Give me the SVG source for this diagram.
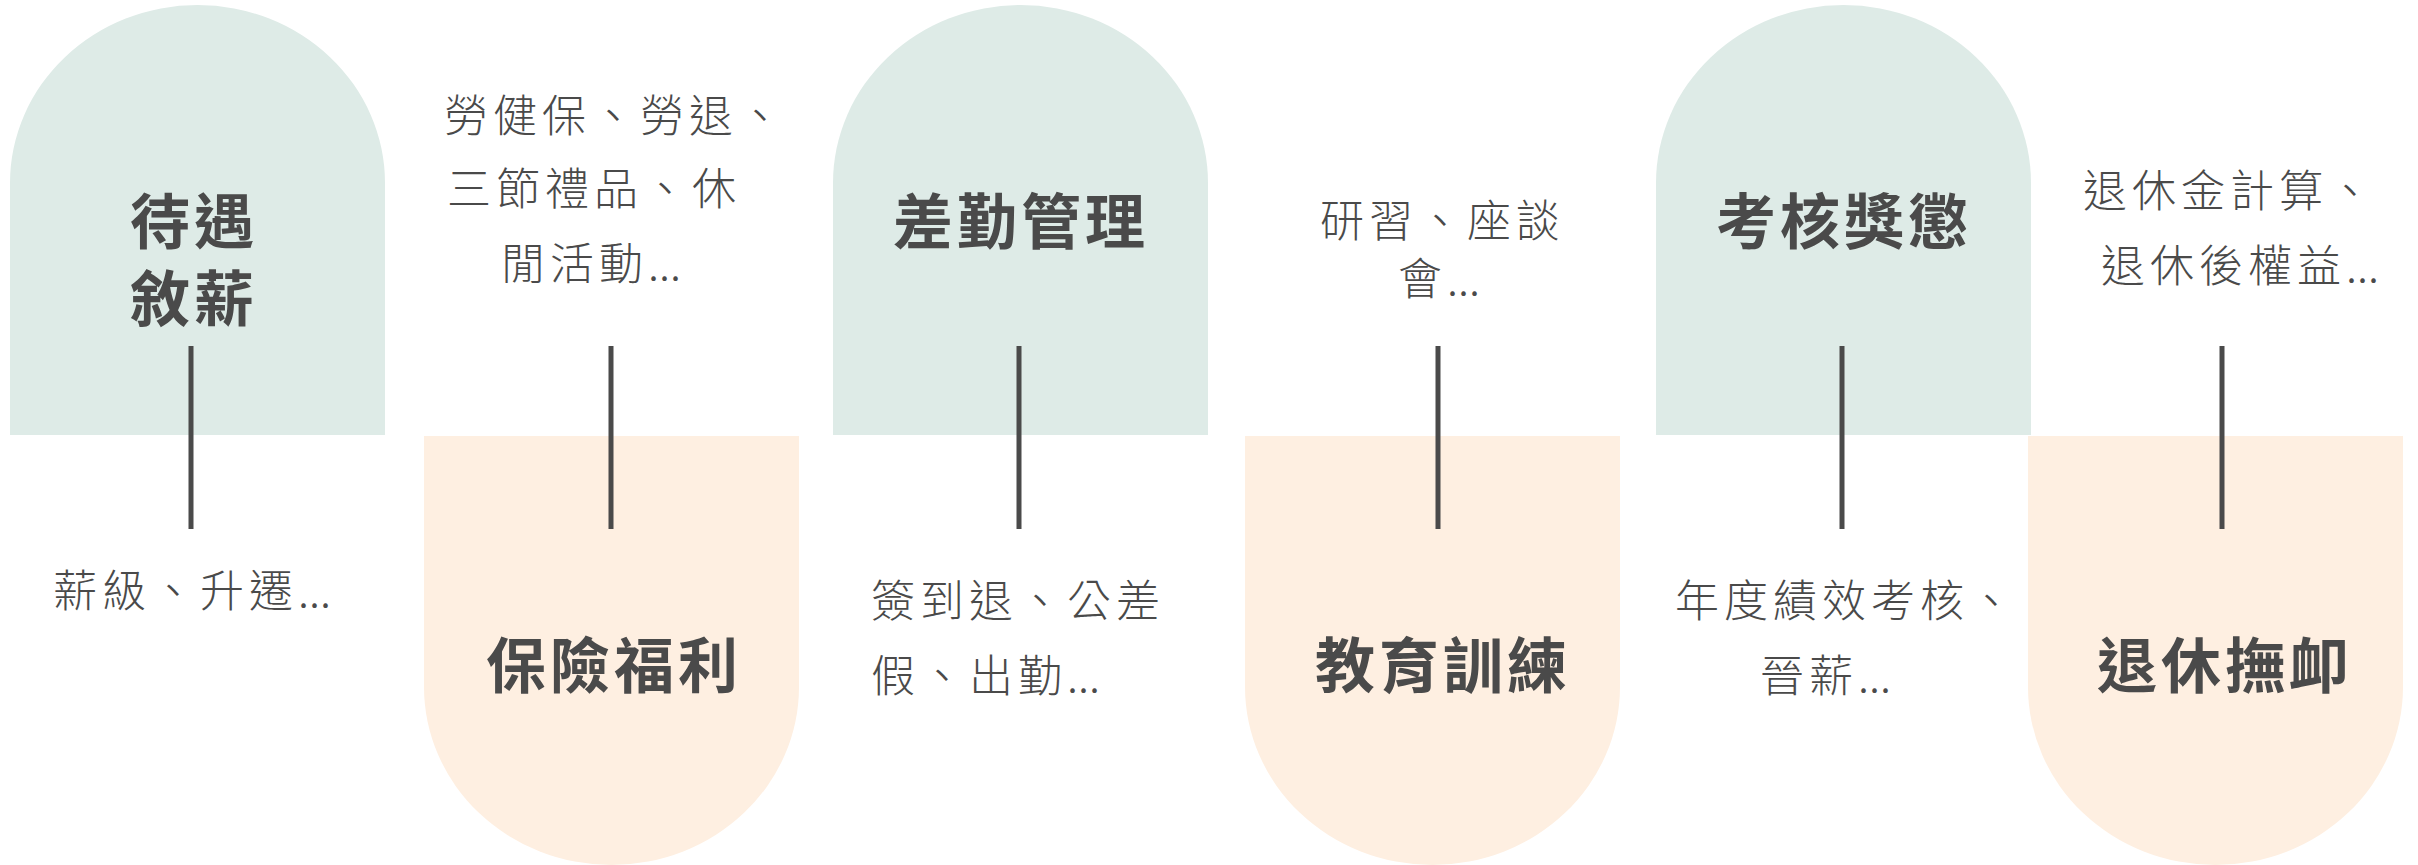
<svg xmlns="http://www.w3.org/2000/svg" width="2418" height="865" viewBox="0 0 2418 865">
<style>
.green{fill:#deebe7}
.peach{fill:#feefe1}
.title{font-family:"Noto Sans CJK TC","Noto Sans CJK SC",sans-serif;font-weight:700;font-size:60px;letter-spacing:4px;fill:#4a4a4a}
.desc{font-family:"Noto Sans CJK TC","Noto Sans CJK SC",sans-serif;font-weight:300;font-size:44px;letter-spacing:5px;fill:#4a4a4a}
.dots{letter-spacing:0}
.conn{stroke:#4a4a4a;stroke-width:5;fill:none}
</style>
<rect width="2418" height="865" fill="#ffffff"/>
<g id="node-salary">
<path class="green" d="M10,435 V183 A187.5,178 0 0 1 385,183 V435 Z"/>
<text class="title"><tspan x="130" y="244">待遇</tspan><tspan x="130" y="321">敘薪</tspan></text>
<text class="desc" x="53" y="607">薪級、升遷<tspan class="dots">...</tspan></text>
</g>
<g id="node-insurance">
<path class="peach" d="M424,436 V687 A187.5,178 0 0 0 799,687 V436 Z"/>
<text class="title" x="486" y="688">保險福利</text>
<text class="desc"><tspan x="444" y="132">勞健保、勞退、</tspan><tspan x="447" y="205">三節禮品、休</tspan><tspan x="501" y="280">閒活動<tspan class="dots">...</tspan></tspan></text>
</g>
<g id="node-attendance">
<path class="green" d="M833,435 V183 A187.5,178 0 0 1 1208,183 V435 Z"/>
<text class="title" x="893" y="244">差勤管理</text>
<text class="desc"><tspan x="871" y="617">簽到退、公差</tspan><tspan x="871" y="692">假、出勤<tspan class="dots">...</tspan></tspan></text>
</g>
<g id="node-training">
<path class="peach" d="M1245,436 V687 A187.5,178 0 0 0 1620,687 V436 Z"/>
<text class="title" x="1315" y="688">教育訓練</text>
<text class="desc"><tspan x="1320" y="237">研習、座談</tspan><tspan x="1398" y="295">會<tspan class="dots">...</tspan></tspan></text>
</g>
<g id="node-evaluation">
<path class="green" d="M1656,435 V183 A187.5,178 0 0 1 2031,183 V435 Z"/>
<text class="title" x="1716" y="244">考核獎懲</text>
<text class="desc"><tspan x="1675" y="617">年度績效考核、</tspan><tspan x="1760" y="692">晉薪<tspan class="dots">...</tspan></tspan></text>
</g>
<g id="node-retirement">
<path class="peach" d="M2028,436 V687 A187.5,178 0 0 0 2403,687 V436 Z"/>
<text class="title" x="2097" y="688">退休撫卹</text>
<text class="desc"><tspan x="2083" y="207">退休金計算、</tspan><tspan x="2101" y="282">退休後權益<tspan class="dots">...</tspan></tspan></text>
</g>
<g id="connectors">
<line class="conn" x1="191" y1="346" x2="191" y2="529"/>
<line class="conn" x1="611" y1="346" x2="611" y2="529"/>
<line class="conn" x1="1019" y1="346" x2="1019" y2="529"/>
<line class="conn" x1="1438" y1="346" x2="1438" y2="529"/>
<line class="conn" x1="1842" y1="346" x2="1842" y2="529"/>
<line class="conn" x1="2222" y1="346" x2="2222" y2="529"/>
</g>
</svg>
